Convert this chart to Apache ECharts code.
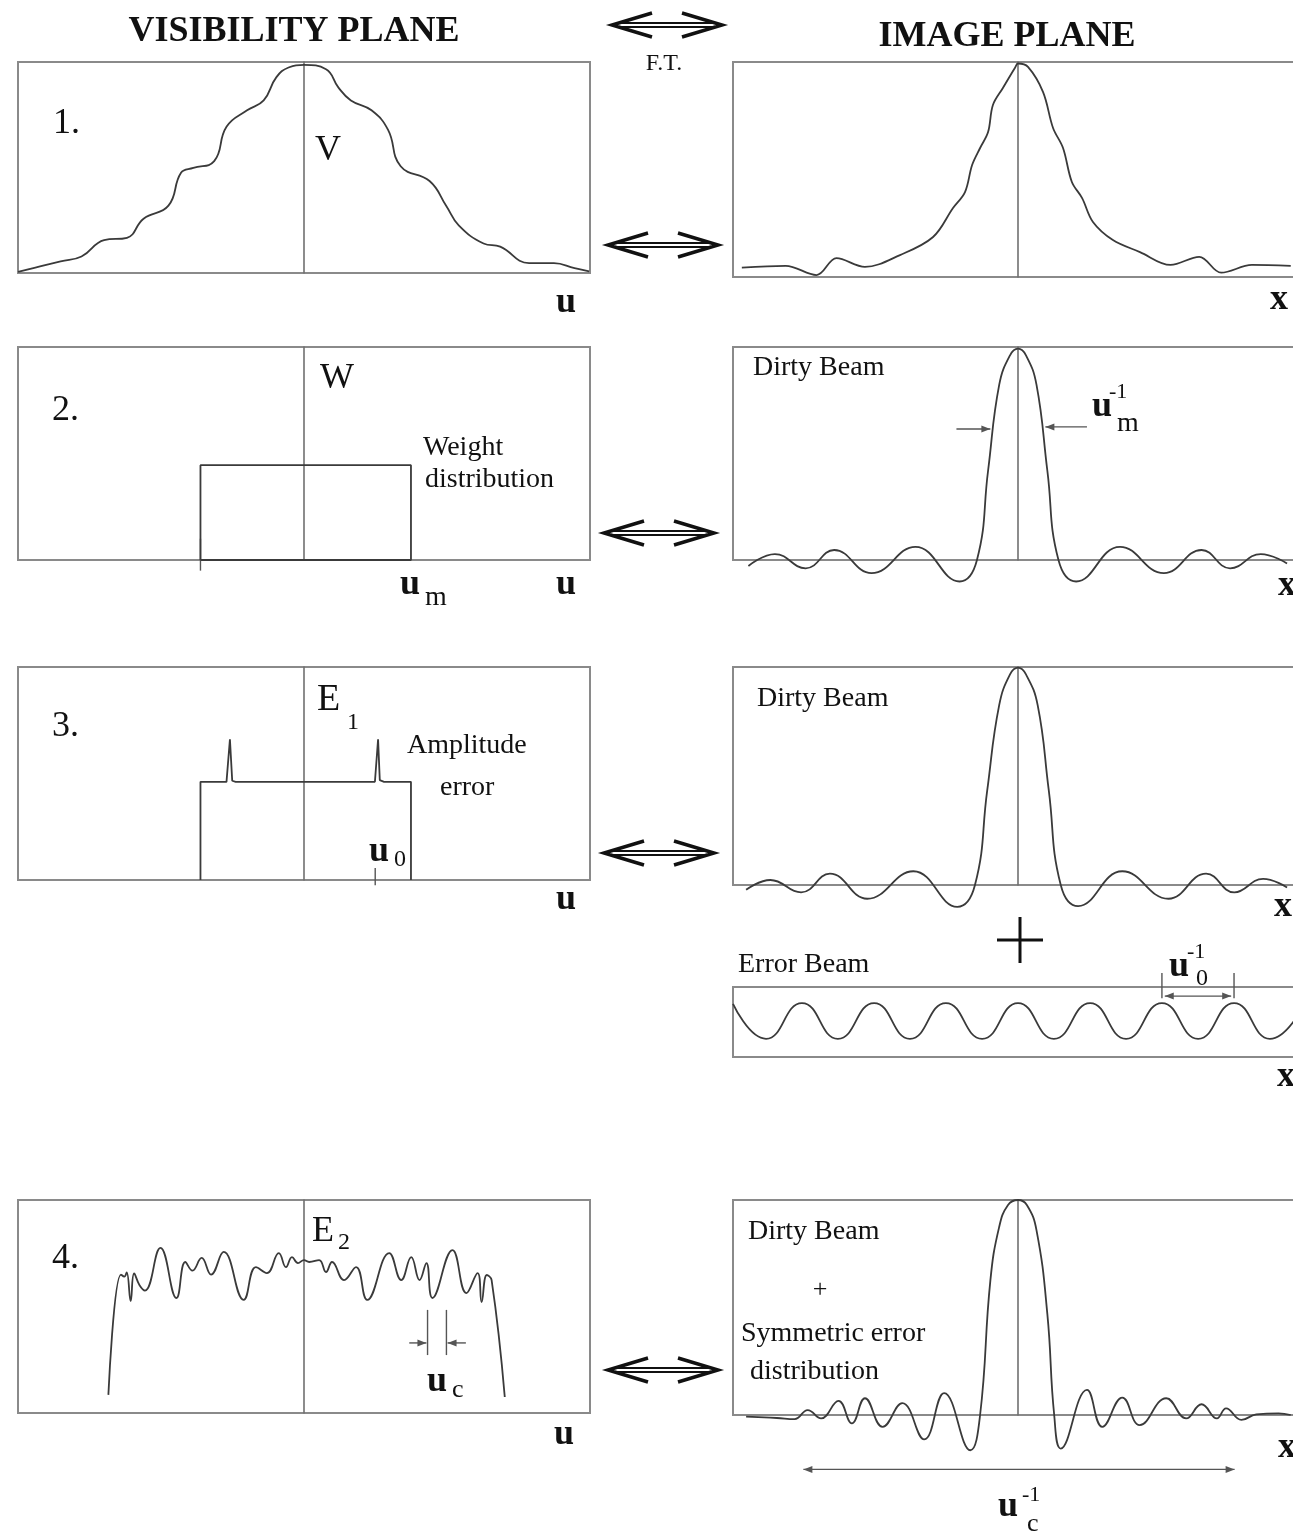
<!DOCTYPE html>
<html><head><meta charset="utf-8">
<script src="https://cdn.jsdelivr.net/npm/echarts@6/dist/echarts.min.js"></script>
<style>html,body{margin:0;padding:0;background:#fff}#c{width:1293px;height:1535px}</style>
</head><body><div id="c"></div>
<script>
// ---------- DATA (x in units of half box width, centre = 0; y: 0 = box bottom, 1 = box top) ----------
const visibilityV = [[-1.0,0.005],[-0.923,0.031],[-0.851,0.055],[-0.778,0.078],[-0.699,0.156],[-0.619,0.167],[-0.561,0.257],[-0.474,0.319],[-0.430,0.475],[-0.387,0.498],[-0.314,0.530],[-0.271,0.693],[-0.199,0.771],[-0.141,0.818],[-0.097,0.927],[-0.054,0.974],[0,0.986],[0.077,0.966],[0.120,0.880],[0.164,0.818],[0.236,0.771],[0.294,0.678],[0.338,0.506],[0.439,0.436],[0.497,0.319],[0.541,0.226],[0.628,0.140],[0.686,0.125],[0.787,0.047],[0.874,0.047],[0.946,0.023],[0.997,0.008]];
const imageV = [[-0.969,0.044],[-0.815,0.052],[-0.707,0.009],[-0.637,0.088],[-0.537,0.047],[-0.414,0.102],[-0.298,0.186],[-0.228,0.321],[-0.186,0.395],[-0.161,0.521],[-0.133,0.600],[-0.105,0.674],[-0.088,0.800],[-0.053,0.879],[-0.011,0.972],[0,0.993],[0.035,0.977],[0.088,0.860],[0.123,0.693],[0.158,0.600],[0.189,0.442],[0.225,0.367],[0.263,0.256],[0.333,0.172],[0.428,0.116],[0.535,0.056],[0.636,0.094],[0.713,0.020],[0.821,0.056],[0.957,0.052]];
const weightDist = [[-0.362,0],[-0.362,0.445],[0.374,0.445],[0.374,0],[-0.362,0]];
const dirtyBeam2 = [[-0.946,-0.028],[-0.853,0.028],[-0.745,-0.039],[-0.645,0.047],[-0.514,-0.062],[-0.360,0.062],[-0.205,-0.101],[-0.144,0],[-0.105,0.419],[-0.066,0.822],[-0.028,0.961],[0,0.992],[0.028,0.961],[0.065,0.822],[0.103,0.419],[0.142,0],[0.204,-0.101],[0.358,0.062],[0.512,-0.062],[0.644,0.047],[0.744,-0.039],[0.852,0.028],[0.944,-0.016]];
const ampErrorDist = [[-0.362,0],[-0.362,0.461],[-0.271,0.461],[-0.259,0.661],[-0.251,0.466],[-0.239,0.461],[0.248,0.461],[0.259,0.661],[0.265,0.469],[0.280,0.461],[0.374,0.461],[0.374,0]];
const dirtyBeam3 = [[-0.954,-0.022],[-0.869,0.023],[-0.761,-0.034],[-0.660,0.052],[-0.529,-0.063],[-0.367,0.063],[-0.213,-0.100],[-0.151,0],[-0.108,0.434],[-0.066,0.825],[-0.028,0.966],[0,0.997],[0.028,0.966],[0.069,0.825],[0.108,0.434],[0.150,0],[0.211,-0.097],[0.366,0.063],[0.528,-0.063],[0.660,0.052],[0.759,-0.034],[0.860,0.028],[0.944,-0.011]];
const errorBeam = [[-1.0,0.76],[-0.884,0.26],[-0.758,0.77],[-0.632,0.26],[-0.505,0.77],[-0.379,0.26],[-0.253,0.77],[-0.126,0.26],[0,0.77],[0.126,0.26],[0.253,0.77],[0.379,0.26],[0.505,0.77],[0.632,0.26],[0.758,0.77],[0.884,0.26],[1.0,0.72]];
const symErrorVis = [[-0.684,0.085],[-0.640,0.650],[-0.628,0.640],[-0.620,0.660],[-0.606,0.525],[-0.594,0.655],[-0.575,0.600],[-0.556,0.575],[-0.502,0.775],[-0.446,0.540],[-0.415,0.709],[-0.390,0.668],[-0.358,0.728],[-0.325,0.650],[-0.281,0.756],[-0.211,0.531],[-0.168,0.685],[-0.130,0.657],[-0.088,0.751],[-0.063,0.685],[-0.042,0.732],[-0.021,0.704],[0,0.718],[0.018,0.709],[0.053,0.718],[0.077,0.662],[0.098,0.709],[0.140,0.624],[0.182,0.685],[0.221,0.531],[0.298,0.751],[0.340,0.624],[0.375,0.732],[0.404,0.624],[0.428,0.704],[0.449,0.540],[0.519,0.765],[0.568,0.563],[0.607,0.657],[0.621,0.521],[0.639,0.648],[0.656,0.624],[0.702,0.075]];
const dirtyBeam4 = [[-0.954,-0.008],[-0.846,-0.014],[-0.784,-0.019],[-0.738,0.023],[-0.691,-0.016],[-0.630,0.066],[-0.583,-0.039],[-0.537,0.078],[-0.475,-0.055],[-0.406,0.055],[-0.329,-0.113],[-0.259,0.102],[-0.167,-0.164],[-0.133,0],[-0.097,0.625],[-0.066,0.875],[-0.035,0.977],[0,1.0],[0.031,0.977],[0.065,0.859],[0.103,0.469],[0.127,0],[0.150,-0.156],[0.242,0.117],[0.296,-0.055],[0.366,0.081],[0.427,-0.047],[0.520,0.078],[0.590,-0.016],[0.644,0.050],[0.698,-0.016],[0.730,0.031],[0.784,-0.023],[0.836,0.003],[0.914,0.008],[0.957,0]];
// annotation segments: [x1, y1, x2, y2, arrowAtStart, arrowAtEnd] in data units of each panel
const umTick = [[-0.362,0.1,-0.362,-0.05,0,0]];
const umArrows = [[-0.216,0.615,-0.097,0.615,0,1],[0.242,0.625,0.096,0.625,0,1]];
const u0Tick = [[0.249,0.056,0.249,-0.025,0,0]];
const u0InvMarks = [[0.505,0.84,0.505,1.2,0,0],[0.758,0.84,0.758,1.2,0,0],[0.515,0.87,0.748,0.87,1,1]];
const ucMarks = [[0.432,0.484,0.432,0.272,0,0],[0.498,0.484,0.498,0.272,0,0],[0.368,0.329,0.428,0.329,0,1],[0.566,0.329,0.502,0.329,0,1]];
const ucInvArrow = [[-0.753,-0.253,0.76,-0.253,1,1]];

// ---------- LAYOUT ----------
const boxes = [
  {left:18, top:62, width:572, height:211, centre:true},   // 0 V
  {left:733, top:62, width:570, height:215, centre:true},  // 1 image
  {left:18, top:347, width:572, height:213, centre:true},  // 2 W
  {left:733, top:347, width:570, height:213, centre:true}, // 3 dirty beam
  {left:18, top:667, width:572, height:213, centre:true},  // 4 E1
  {left:733, top:667, width:570, height:218, centre:true}, // 5 dirty beam
  {left:733, top:987, width:570, height:70, centre:false}, // 6 error beam
  {left:18, top:1200, width:572, height:213, centre:true}, // 7 E2
  {left:733, top:1200, width:570, height:215, centre:true} // 8 dirty beam + sym
];
const CURVE = '#3a3a3a', BORDER = '#8a8a8a', AXIS = '#707070', MARK = '#555';
const SERIF = '"Liberation Serif","Times New Roman",serif';

const grid = boxes.map(b => ({left:b.left, top:b.top, width:b.width, height:b.height, show:true,
  borderColor:BORDER, borderWidth:2, backgroundColor:'transparent', containLabel:false, outerBoundsMode:'none'}));
const xAxis = boxes.map((b,i) => ({type:'value', gridIndex:i, min:-1, max:1,
  axisLine:{show:false}, axisTick:{show:false}, axisLabel:{show:false}, splitLine:{show:false}}));
const yAxis = boxes.map((b,i) => ({type:'value', gridIndex:i, min:0, max:1,
  axisLine:{show:b.centre, onZero:true, lineStyle:{color:AXIS, width:1.6}}, axisTick:{show:false}, axisLabel:{show:false}, splitLine:{show:false}}));

function curve(i, data, smooth) {
  return {type:'line', xAxisIndex:i, yAxisIndex:i, data:data, smooth:smooth, symbol:'none', clip:false,
    silent:true, lineStyle:{color:CURVE, width:1.8}, animation:false};
}
function annotRender(params, api) {
  const p1 = api.coord([api.value(0), api.value(1)]);
  const p2 = api.coord([api.value(2), api.value(3)]);
  const dx = p2[0]-p1[0], dy = p2[1]-p1[1], L = Math.hypot(dx, dy) || 1, ux = dx/L, uy = dy/L;
  const children = [{type:'line', shape:{x1:p1[0], y1:p1[1], x2:p2[0], y2:p2[1]}, style:{stroke:MARK, lineWidth:1.4}}];
  function head(tip, d) {
    const len = 9, w = 3.5, bx = tip[0]-d[0]*len, by = tip[1]-d[1]*len;
    return {type:'polygon', shape:{points:[[tip[0],tip[1]],[bx-d[1]*w, by+d[0]*w],[bx+d[1]*w, by-d[0]*w]]}, style:{fill:MARK}};
  }
  if (api.value(5)) children.push(head(p2, [ux, uy]));
  if (api.value(4)) children.push(head(p1, [-ux, -uy]));
  return {type:'group', children:children};
}
function annot(i, data) {
  return {type:'custom', xAxisIndex:i, yAxisIndex:i, data:data, renderItem:annotRender, clip:false,
    silent:true, animation:false, encode:{x:[0,2], y:[1,3]}};
}
const series = [
  curve(0, visibilityV, 0.45),
  curve(1, imageV, 0.35),
  curve(2, weightDist, false), annot(2, umTick),
  curve(3, dirtyBeam2, 0.45), annot(3, umArrows),
  curve(4, ampErrorDist, false), annot(4, u0Tick),
  curve(5, dirtyBeam3, 0.45),
  curve(6, errorBeam, 0.5), annot(6, u0InvMarks),
  curve(7, symErrorVis, 0.45), annot(7, ucMarks),
  curve(8, dirtyBeam4, 0.45), annot(8, ucInvArrow)
];

// ---------- TEXT ----------
// [text, x, y(centre), size, weight, align]
const labels = [
  ['VISIBILITY PLANE', 294, 32, 36, 'bold', 'center'],
  ['IMAGE PLANE', 1007, 37, 36, 'bold', 'center'],
  ['F.T.', 664, 64, 24, 'normal', 'center'],
  ['1.', 53, 124, 36, 'normal', 'left'],
  ['V', 315, 151, 36, 'normal', 'left'],
  ['u', 556, 303, 36, 'bold', 'left'],
  ['x', 1270, 300, 36, 'bold', 'left'],
  ['2.', 52, 411, 36, 'normal', 'left'],
  ['W', 320, 379, 36, 'normal', 'left'],
  ['Weight', 423, 448, 28, 'normal', 'left'],
  ['distribution', 425, 480, 28, 'normal', 'left'],
  ['u', 400, 585, 36, 'bold', 'left'],
  ['m', 425, 598, 28, 'normal', 'left'],
  ['u', 556, 585, 36, 'bold', 'left'],
  ['Dirty Beam', 753, 368, 28, 'normal', 'left'],
  ['u', 1092, 407, 36, 'bold', 'left'],
  ['-1', 1109, 392, 22, 'normal', 'left'],
  ['m', 1117, 424, 28, 'normal', 'left'],
  ['x', 1278, 586, 36, 'bold', 'left'],
  ['3.', 52, 727, 36, 'normal', 'left'],
  ['E', 317, 700, 38, 'normal', 'left'],
  ['1', 347, 723, 24, 'normal', 'left'],
  ['Amplitude', 407, 746, 28, 'normal', 'left'],
  ['error', 440, 788, 28, 'normal', 'left'],
  ['u', 369, 852, 36, 'bold', 'left'],
  ['0', 394, 860, 24, 'normal', 'left'],
  ['u', 556, 900, 36, 'bold', 'left'],
  ['Dirty Beam', 757, 699, 28, 'normal', 'left'],
  ['x', 1274, 907, 36, 'bold', 'left'],
  ['Error Beam', 738, 965, 28, 'normal', 'left'],
  ['u', 1169, 967, 36, 'bold', 'left'],
  ['-1', 1187, 952, 22, 'normal', 'left'],
  ['0', 1196, 979, 24, 'normal', 'left'],
  ['x', 1277, 1077, 36, 'bold', 'left'],
  ['4.', 52, 1259, 36, 'normal', 'left'],
  ['E', 312, 1232, 36, 'normal', 'left'],
  ['2', 338, 1243, 24, 'normal', 'left'],
  ['u', 427, 1382, 36, 'bold', 'left'],
  ['c', 452, 1390, 26, 'normal', 'left'],
  ['u', 554, 1435, 36, 'bold', 'left'],
  ['Dirty Beam', 748, 1232, 28, 'normal', 'left'],
  ['+', 820, 1290, 26, 'normal', 'center'],
  ['Symmetric error', 741, 1334, 28, 'normal', 'left'],
  ['distribution', 750, 1372, 28, 'normal', 'left'],
  ['x', 1278, 1448, 36, 'bold', 'left'],
  ['u', 998, 1507, 36, 'bold', 'left'],
  ['-1', 1022, 1495, 22, 'normal', 'left'],
  ['c', 1027, 1524, 26, 'normal', 'left']
];
// F.T. double arrows between planes: [x1, x2, y]
const ftArrows = [[612,722,25],[608,718,245],[604,714,533],[604,714,853],[608,718,1370]];

const graphic = [];
labels.forEach(l => graphic.push({type:'text', x:l[1], y:l[2], silent:true, style:{text:l[0],
  font:l[4] + ' ' + l[3] + 'px ' + SERIF, fill:'#111', align:l[5], textAlign:l[5],
  verticalAlign:'middle', textVerticalAlign:'middle'}}));
ftArrows.forEach(a => {
  const x1 = a[0], x2 = a[1], y = a[2], hl = 40, hh = 12;
  graphic.push({type:'line', silent:true, shape:{x1:x1+6, y1:y-2, x2:x2-6, y2:y-2}, style:{stroke:'#111', lineWidth:2}});
  graphic.push({type:'line', silent:true, shape:{x1:x1+6, y1:y+2, x2:x2-6, y2:y+2}, style:{stroke:'#111', lineWidth:2}});
  graphic.push({type:'polyline', silent:true, shape:{points:[[x1+hl,y-hh],[x1,y],[x1+hl,y+hh]]}, style:{stroke:'#111', lineWidth:3.5, fill:null}});
  graphic.push({type:'polyline', silent:true, shape:{points:[[x2-hl,y-hh],[x2,y],[x2-hl,y+hh]]}, style:{stroke:'#111', lineWidth:3.5, fill:null}});
});
// big plus between dirty beam and error beam
graphic.push({type:'line', silent:true, shape:{x1:997, y1:940, x2:1043, y2:940}, style:{stroke:'#111', lineWidth:3}});
graphic.push({type:'line', silent:true, shape:{x1:1020, y1:917, x2:1020, y2:963}, style:{stroke:'#111', lineWidth:3}});

const chart = echarts.init(document.getElementById('c'), null, {renderer:'canvas'});
chart.setOption({animation:false, backgroundColor:'#fff', grid, xAxis, yAxis, series, graphic});
</script></body></html>
